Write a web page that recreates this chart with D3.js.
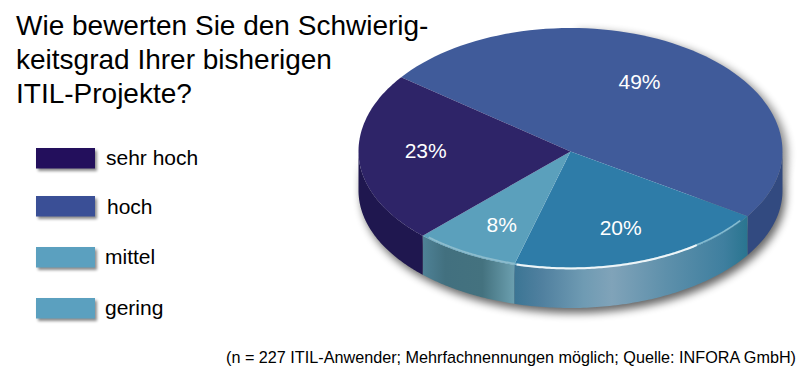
<!DOCTYPE html>
<html><head><meta charset="utf-8">
<script src="https://cdn.jsdelivr.net/npm/d3@7"></script>
<style>html,body{margin:0;background:#fff}svg{display:block}text{font-family:"Liberation Sans",Arial,sans-serif}</style>
</head><body><div id="c"></div>
<script>
const titleLines = ["Wie bewerten Sie den Schwierig-","keitsgrad Ihrer bisherigen","ITIL-Projekte?"];
const legendLabels = ["sehr hoch","hoch","mittel","gering"];
const legendColors = ["#230f5c","#3a4f96","#5ba0bf","#5ba0bf"];
const sliceNames = ["hoch","mittel","gering","sehr hoch"];
const sliceValues = [49,20,8,23];
const sliceColors = ["#405b9a","#2e7ca8","#5ba0bc","#2e2468"];
const note = "(n = 227 ITIL-Anwender; Mehrfachnennungen möglich; Quelle: INFORA GmbH)";

const W=800,H=370,cx=570.5,cy=151.5,rx=212,ryTop=123.5,ryBot=117.5,depth=39;
const svg=d3.select("#c").append("svg").attr("width",W).attr("height",H);
const defs=svg.append("defs");
const blur=(id,s)=>defs.append("filter").attr("id",id).attr("x","-20%").attr("y","-20%").attr("width","140%").attr("height","140%")
  .append("feGaussianBlur").attr("stdDeviation",s);
blur("sh",4);blur("ls",1.5);blur("glow",0.7);

const g1=defs.append("linearGradient").attr("id","wallA").attr("gradientUnits","userSpaceOnUse")
  .attr("x1",422).attr("x2",515).attr("y1",0).attr("y2",0);
[[0,"#4f8297"],[.25,"#42707f"],[.65,"#44727f"],[1,"#6ca0b0"]].forEach(d=>g1.append("stop").attr("offset",d[0]).attr("stop-color",d[1]));
const g2=defs.append("linearGradient").attr("id","wallB").attr("gradientUnits","userSpaceOnUse")
  .attr("x1",514).attr("x2",747).attr("y1",0).attr("y2",0);
[[0,"#3b7594"],[.12,"#50809f"],[.3,"#6f9bb3"],[.42,"#80a3b9"],[.65,"#5e90ab"],[.9,"#3f7f9f"],[1,"#2a7590"]].forEach(d=>g2.append("stop").attr("offset",d[0]).attr("stop-color",d[1]));

const pie=d3.pie().sort(null).value(d=>d).startAngle(-53*Math.PI/180).endAngle(307*Math.PI/180);
const arcs=pie(sliceValues);
const pt=(a,dy=0,k=1)=>{const c=Math.cos(a);return [cx+k*rx*Math.sin(a),cy-k*(c>0?ryTop:ryBot)*c+dy];};
const line=d3.line();
const sample=(a0,a1,dy=0,k=1)=>d3.range(81).map(i=>pt(a0+(a1-a0)*i/80,dy,k));

function wallPath(a0,a1){
  const lo=Math.max(a0,Math.PI/2),hi=Math.min(a1,Math.PI*1.5);
  if(hi<=lo)return null;
  return line(sample(lo,hi).concat(sample(hi,lo,depth)))+"Z";
}
// soft shadow of the solid
svg.append("path").attr("d",wallPath(Math.PI/2,Math.PI*1.5)).attr("fill","#000").attr("opacity",.6)
  .attr("transform","translate(3,5)").attr("filter","url(#sh)");
svg.append("path").attr("d",line(sample(0,Math.PI*.75))).attr("fill","#000").attr("opacity",.45)
  .attr("transform","translate(5,3)").attr("filter","url(#sh)");

// walls
const wallFill=["#324a80","url(#wallB)","url(#wallA)","#1f174f"];
svg.append("g").selectAll("path").data(arcs).join("path")
  .attr("d",d=>wallPath(d.startAngle,d.endAngle)).attr("fill",(d,i)=>wallFill[i]);

// top face
svg.append("g").selectAll("path").data(arcs).join("path")
  .attr("d",d=>line([[cx,cy]].concat(sample(d.startAngle,d.endAngle)))+"Z")
  .attr("fill",(d,i)=>sliceColors[i]);

// rim highlight on the lit slices
const edge=(a0,a1,k,col,w)=>svg.append("path").attr("d",line(sample(a0,a1,0,k))).attr("fill","none")
  .attr("stroke",col).attr("stroke-width",w).attr("filter","url(#glow)");
edge(arcs[1].startAngle+.05,arcs[1].endAngle,.993,"#86bcd0",1.6);
edge(arcs[2].startAngle,arcs[2].endAngle-.03,.99,"#8cbccd",1.8);
edge(2.5,3.4,.995,"#eef5f8",2);

// percentages
const labelPos=[[639.5,82],[620.7,228],[501.7,225],[425.7,151]];
svg.append("g").selectAll("text").data(arcs).join("text")
  .attr("x",(d,i)=>labelPos[i][0]).attr("y",(d,i)=>labelPos[i][1]).attr("dy","0.35em")
  .attr("text-anchor","middle").attr("font-size",21).attr("fill","#fff").text(d=>d.value+"%");

// title
svg.append("g").selectAll("text").data(titleLines).join("text")
  .attr("x",16).attr("y",(d,i)=>35+i*34).attr("font-size",28).attr("fill","#000").text(d=>d);

// legend
const rectY=[148,196,247,298], textY=[165,214,264,315], textX=[106,107,105,105];
const leg=svg.append("g").selectAll("g").data(legendLabels).join("g");
leg.append("rect").attr("x",38).attr("y",(d,i)=>rectY[i]+2.5).attr("width",59).attr("height",20.5).attr("fill","#000").attr("opacity",.45).attr("filter","url(#ls)");
leg.append("rect").attr("x",36).attr("y",(d,i)=>rectY[i]).attr("width",59).attr("height",20.5).attr("fill",(d,i)=>legendColors[i]);
leg.append("text").attr("x",(d,i)=>textX[i]).attr("y",(d,i)=>textY[i]).attr("font-size",21).attr("fill","#000").text(d=>d);

svg.append("text").attr("x",796).attr("y",363).attr("text-anchor","end").attr("font-size",16.2).attr("fill","#000").text(note);
</script></body></html>
